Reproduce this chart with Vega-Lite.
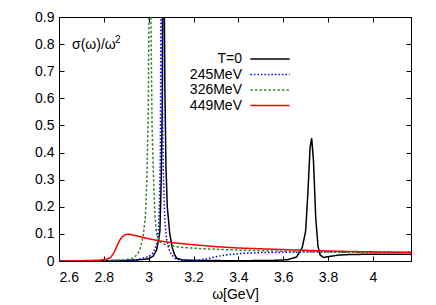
{
  "$schema": "https://vega.github.io/schema/vega-lite/v6.json",
  "width": 352,
  "height": 244,
  "autosize": {"type": "none"},
  "padding": {"left": 59, "top": 17, "right": 25, "bottom": 44},
  "background": "white",
  "config": {
    "font": "Liberation Sans",
    "view": {"stroke": "black", "strokeWidth": 1},
    "axis": {
      "labelFont": "Liberation Sans", "labelFontSize": 14, "labelColor": "black",
      "titleFont": "Liberation Sans", "titleFontSize": 14, "titleFontWeight": "normal", "titleColor": "black",
      "domainColor": "black", "tickColor": "black", "grid": false, "tickSize": -5
    },
    "legend": {
      "labelFont": "Liberation Sans", "labelFontSize": 14, "labelColor": "black"
    }
  },
  "resolve": {"axis": {"x": "independent", "y": "independent"}},
  "layer": [
    {
      "data": {"values": [
        {"w":2.6,"v":0,"s":"T=0"},{"w":2.8,"v":0.001,"s":"T=0"},{"w":2.9,"v":0.002,"s":"T=0"},{"w":2.95,"v":0.004,"s":"T=0"},{"w":3.0,"v":0.008,"s":"T=0"},{"w":3.02,"v":0.018,"s":"T=0"},{"w":3.035,"v":0.04,"s":"T=0"},{"w":3.045,"v":0.08,"s":"T=0"},{"w":3.05,"v":0.11,"s":"T=0"},{"w":3.056,"v":0.3,"s":"T=0"},{"w":3.061,"v":0.6,"s":"T=0"},{"w":3.066,"v":1.5,"s":"T=0"},{"w":3.072,"v":0.65,"s":"T=0"},{"w":3.077,"v":0.35,"s":"T=0"},{"w":3.083,"v":0.2,"s":"T=0"},{"w":3.094,"v":0.1,"s":"T=0"},{"w":3.105,"v":0.05,"s":"T=0"},{"w":3.115,"v":0.025,"s":"T=0"},{"w":3.125,"v":0.01,"s":"T=0"},{"w":3.15,"v":0.004,"s":"T=0"},{"w":3.2,"v":0.002,"s":"T=0"},{"w":3.4,"v":0.001,"s":"T=0"},{"w":3.55,"v":0.002,"s":"T=0"},{"w":3.62,"v":0.005,"s":"T=0"},{"w":3.66,"v":0.015,"s":"T=0"},{"w":3.685,"v":0.05,"s":"T=0"},{"w":3.7,"v":0.11,"s":"T=0"},{"w":3.71,"v":0.25,"s":"T=0"},{"w":3.72,"v":0.42,"s":"T=0"},{"w":3.727,"v":0.453,"s":"T=0"},{"w":3.735,"v":0.37,"s":"T=0"},{"w":3.745,"v":0.16,"s":"T=0"},{"w":3.755,"v":0.055,"s":"T=0"},{"w":3.765,"v":0.022,"s":"T=0"},{"w":3.78,"v":0.013,"s":"T=0"},{"w":3.8,"v":0.016,"s":"T=0"},{"w":3.85,"v":0.022,"s":"T=0"},{"w":3.9,"v":0.024,"s":"T=0"},{"w":4.0,"v":0.025,"s":"T=0"},{"w":4.17,"v":0.025,"s":"T=0"},
        {"w":2.6,"v":0,"s":"245MeV"},{"w":2.9,"v":0.002,"s":"245MeV"},{"w":2.95,"v":0.005,"s":"245MeV"},{"w":3.0,"v":0.016,"s":"245MeV"},{"w":3.02,"v":0.03,"s":"245MeV"},{"w":3.035,"v":0.06,"s":"245MeV"},{"w":3.043,"v":0.11,"s":"245MeV"},{"w":3.048,"v":0.2,"s":"245MeV"},{"w":3.052,"v":0.4,"s":"245MeV"},{"w":3.056,"v":1.2,"s":"245MeV"},{"w":3.061,"v":0.6,"s":"245MeV"},{"w":3.066,"v":0.3,"s":"245MeV"},{"w":3.072,"v":0.15,"s":"245MeV"},{"w":3.08,"v":0.08,"s":"245MeV"},{"w":3.09,"v":0.045,"s":"245MeV"},{"w":3.1,"v":0.025,"s":"245MeV"},{"w":3.12,"v":0.008,"s":"245MeV"},{"w":3.15,"v":0.002,"s":"245MeV"},{"w":3.22,"v":0.003,"s":"245MeV"},{"w":3.26,"v":0.008,"s":"245MeV"},{"w":3.3,"v":0.016,"s":"245MeV"},{"w":3.35,"v":0.023,"s":"245MeV"},{"w":3.4,"v":0.027,"s":"245MeV"},{"w":3.5,"v":0.031,"s":"245MeV"},{"w":3.7,"v":0.033,"s":"245MeV"},{"w":4.17,"v":0.032,"s":"245MeV"},
        {"w":2.6,"v":0,"s":"326MeV"},{"w":2.85,"v":0.002,"s":"326MeV"},{"w":2.9,"v":0.005,"s":"326MeV"},{"w":2.93,"v":0.01,"s":"326MeV"},{"w":2.95,"v":0.025,"s":"326MeV"},{"w":2.96,"v":0.04,"s":"326MeV"},{"w":2.975,"v":0.09,"s":"326MeV"},{"w":2.985,"v":0.16,"s":"326MeV"},{"w":2.992,"v":0.3,"s":"326MeV"},{"w":2.998,"v":0.55,"s":"326MeV"},{"w":3.004,"v":1.2,"s":"326MeV"},{"w":3.01,"v":0.9,"s":"326MeV"},{"w":3.015,"v":0.5,"s":"326MeV"},{"w":3.02,"v":0.35,"s":"326MeV"},{"w":3.027,"v":0.18,"s":"326MeV"},{"w":3.035,"v":0.1,"s":"326MeV"},{"w":3.05,"v":0.07,"s":"326MeV"},{"w":3.08,"v":0.058,"s":"326MeV"},{"w":3.15,"v":0.05,"s":"326MeV"},{"w":3.25,"v":0.045,"s":"326MeV"},{"w":3.4,"v":0.04,"s":"326MeV"},{"w":3.6,"v":0.036,"s":"326MeV"},{"w":3.8,"v":0.033,"s":"326MeV"},{"w":4.0,"v":0.031,"s":"326MeV"},{"w":4.17,"v":0.03,"s":"326MeV"},
        {"w":2.6,"v":0,"s":"449MeV"},{"w":2.7,"v":0.001,"s":"449MeV"},{"w":2.78,"v":0.003,"s":"449MeV"},{"w":2.81,"v":0.006,"s":"449MeV"},{"w":2.83,"v":0.013,"s":"449MeV"},{"w":2.845,"v":0.03,"s":"449MeV"},{"w":2.857,"v":0.053,"s":"449MeV"},{"w":2.87,"v":0.075,"s":"449MeV"},{"w":2.88,"v":0.088,"s":"449MeV"},{"w":2.895,"v":0.097,"s":"449MeV"},{"w":2.91,"v":0.099,"s":"449MeV"},{"w":2.93,"v":0.096,"s":"449MeV"},{"w":2.96,"v":0.09,"s":"449MeV"},{"w":3.0,"v":0.082,"s":"449MeV"},{"w":3.05,"v":0.074,"s":"449MeV"},{"w":3.1,"v":0.068,"s":"449MeV"},{"w":3.2,"v":0.06,"s":"449MeV"},{"w":3.3,"v":0.053,"s":"449MeV"},{"w":3.4,"v":0.048,"s":"449MeV"},{"w":3.5,"v":0.045,"s":"449MeV"},{"w":3.6,"v":0.042,"s":"449MeV"},{"w":3.75,"v":0.038,"s":"449MeV"},{"w":3.9,"v":0.035,"s":"449MeV"},{"w":4.05,"v":0.033,"s":"449MeV"},{"w":4.17,"v":0.032,"s":"449MeV"}
      ]},
      "mark": {"type": "line", "clip": true},
      "encoding": {
        "x": {"field": "w", "type": "quantitative",
          "scale": {"domain": [2.6, 4.17], "nice": false, "zero": false},
          "axis": {"orient": "bottom", "values": [2.6, 2.8, 3.0, 3.2, 3.4, 3.6, 3.8, 4.0], "format": "~g", "title": "ω[GeV]", "labelPadding": 14, "titlePadding": 3}},
        "y": {"field": "v", "type": "quantitative",
          "scale": {"domain": [0, 0.9], "nice": false, "zero": false},
          "axis": {"orient": "left", "values": [0, 0.1, 0.2, 0.3, 0.4, 0.5, 0.6, 0.7, 0.8, 0.9], "format": "~g", "title": null, "labelPadding": 10}},
        "color": {"field": "s", "type": "nominal",
          "scale": {"domain": ["T=0", "245MeV", "326MeV", "449MeV"], "range": ["#000000", "#0000ff", "#358535", "#ff0000"]},
          "legend": {"orient": "none", "legendX": 203, "legendY": 34, "title": null, "labelAlign": "right", "labelOffset": -36, "symbolType": "M-2.8,0H2.8", "symbolSize": 196, "rowPadding": 0.5, "padding": 0}},
        "strokeDash": {"field": "s", "type": "nominal",
          "scale": {"domain": ["T=0", "245MeV", "326MeV", "449MeV"], "range": [[1, 0], [1.5, 2], [2.5, 2], [1, 0]]}},
        "strokeWidth": {"field": "s", "type": "nominal",
          "scale": {"domain": ["T=0", "245MeV", "326MeV", "449MeV"], "range": [1.5, 1.5, 0.9, 1.5]}}
      }
    },
    {
      "data": {"values": [{}]},
      "mark": {"type": "text", "align": "left", "baseline": "middle", "fontSize": 14, "font": "Liberation Sans", "color": "black"},
      "encoding": {
        "x": {"datum": 2.658, "type": "quantitative", "axis": {"orient": "top", "values": [2.6, 2.8, 3.0, 3.2, 3.4, 3.6, 3.8, 4.0], "labels": false, "title": null}},
        "y": {"datum": 0.797, "type": "quantitative", "axis": {"orient": "right", "values": [0, 0.1, 0.2, 0.3, 0.4, 0.5, 0.6, 0.7, 0.8, 0.9], "labels": false, "title": null}},
        "text": {"value": "σ(ω)/ω"}
      }
    },
    {
      "data": {"values": [{}]},
      "mark": {"type": "text", "align": "left", "baseline": "middle", "fontSize": 10, "font": "Liberation Sans", "color": "black", "dx": 43, "dy": -5},
      "encoding": {
        "x": {"datum": 2.658, "type": "quantitative", "axis": null},
        "y": {"datum": 0.797, "type": "quantitative", "axis": null},
        "text": {"value": "2"}
      }
    }
  ]
}
